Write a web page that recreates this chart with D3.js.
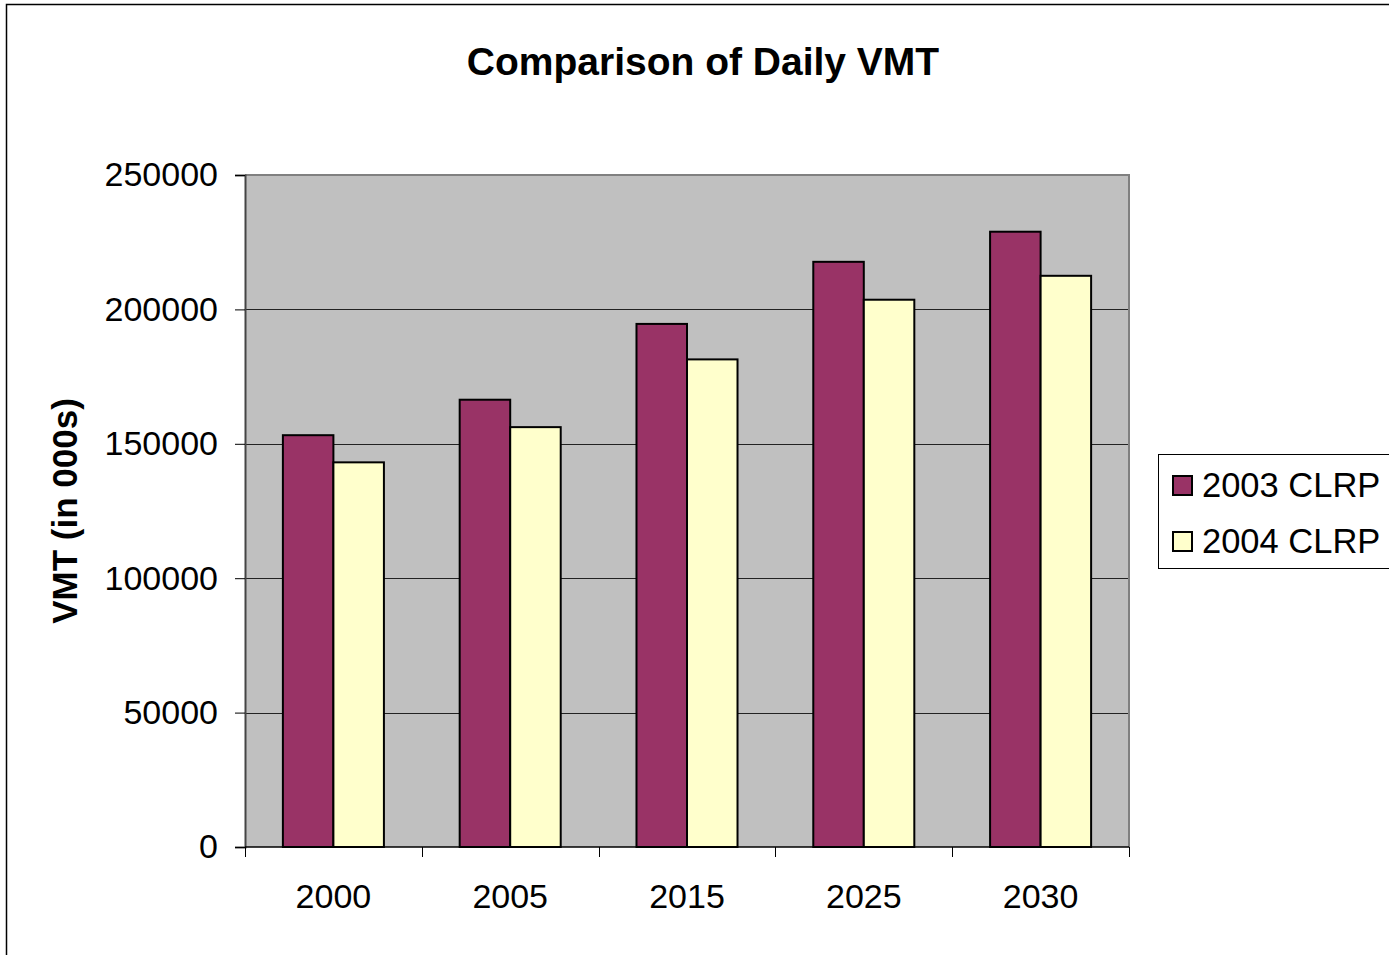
<!DOCTYPE html>
<html>
<head>
<meta charset="utf-8">
<script src="https://cdn.jsdelivr.net/npm/d3@7.9.0/dist/d3.min.js"></script>
<style>
  body { margin: 0; background: #fff; }
  svg { display: block; font-family: "Liberation Sans", Arial, sans-serif; }
</style>
</head>
<body>
<svg id="chart" width="1389" height="955"></svg>
<script>
const years = ['2000', '2005', '2015', '2025', '2030'];
const seriesNames = ['2003 CLRP', '2004 CLRP'];
const clrp2003 = [153200, 166400, 194600, 217700, 228900];
const clrp2004 = [143100, 156200, 181400, 203600, 212500];
const yTicks = [0, 50000, 100000, 150000, 200000, 250000];

const colors = ['#993366', '#FFFFCC'];

const svg = d3.select('#chart');
const plot = { left: 245, top: 175, right: 1129, bottom: 847 };

// outer chart frame
svg.append('rect')
  .attr('x', 6.5).attr('y', 4.5)
  .attr('width', 1400).attr('height', 1000)
  .attr('fill', 'none').attr('stroke', '#000').attr('stroke-width', 1.5);

const x = d3.scaleBand()
  .domain(years)
  .range([plot.left, plot.right]);

const y = d3.scaleLinear()
  .domain([0, 250000])
  .range([plot.bottom, plot.top]);

// plot background
svg.append('rect')
  .attr('x', plot.left).attr('y', plot.top)
  .attr('width', plot.right - plot.left).attr('height', plot.bottom - plot.top)
  .attr('fill', '#C0C0C0');

// gridlines
svg.append('g')
  .selectAll('line')
  .data(yTicks.filter(d => d > 0 && d < 250000))
  .enter()
  .append('line')
    .attr('x1', plot.left).attr('x2', plot.right)
    .attr('y1', d => Math.round(y(d)) + 0.5).attr('y2', d => Math.round(y(d)) + 0.5)
    .attr('stroke', '#222').attr('stroke-width', 1);

// plot border (top/right grey)
svg.append('path')
  .attr('d', `M${plot.left},${plot.top} H${plot.right} V${plot.bottom}`)
  .attr('fill', 'none').attr('stroke', '#808080').attr('stroke-width', 2);

// bars
const barW = x.bandwidth() / 3.5;
const data = years.map((yr, i) => ({ year: yr, values: [clrp2003[i], clrp2004[i]] }));

const groups = svg.append('g')
  .selectAll('g')
  .data(data)
  .enter()
  .append('g')
    .attr('transform', d => `translate(${x(d.year) + (x.bandwidth() - 2 * barW) / 2},0)`);

groups.selectAll('rect')
  .data(d => d.values)
  .enter()
  .append('rect')
    .attr('x', (d, i) => i * barW)
    .attr('y', d => y(d))
    .attr('width', barW)
    .attr('height', d => y(0) - y(d))
    .attr('fill', (d, i) => colors[i])
    .attr('stroke', '#000')
    .attr('stroke-width', 2);

// y axis
const yAxis = svg.append('g')
  .attr('transform', `translate(${plot.left},0)`)
  .call(d3.axisLeft(y).tickValues(yTicks).tickSize(10).tickPadding(17).tickFormat(d3.format('d')));
yAxis.select('.domain').attr('stroke', '#444').attr('stroke-width', 2);
yAxis.selectAll('.tick line').attr('stroke', '#000');
yAxis.selectAll('text')
  .attr('font-size', 34)
  .attr('font-family', '"Liberation Sans", Arial, sans-serif')
  .attr('fill', '#000');

// x axis
const xAxis = svg.append('g')
  .attr('transform', `translate(0,${plot.bottom})`)
  .call(d3.axisBottom(x).tickSize(0).tickPadding(37));
xAxis.select('.domain').remove();
xAxis.selectAll('text')
  .attr('font-size', 34)
  .attr('font-family', '"Liberation Sans", Arial, sans-serif')
  .attr('fill', '#000');

svg.append('line')
  .attr('x1', plot.left).attr('x2', plot.right)
  .attr('y1', plot.bottom).attr('y2', plot.bottom)
  .attr('stroke', '#000').attr('stroke-width', 1.5);

svg.append('g')
  .selectAll('line')
  .data(years.map(d => x(d)).concat([plot.right]))
  .enter()
  .append('line')
    .attr('x1', d => Math.round(d) + 0.5).attr('x2', d => Math.round(d) + 0.5)
    .attr('y1', plot.bottom).attr('y2', plot.bottom + 10)
    .attr('stroke', '#000');

// title
svg.append('text')
  .attr('x', 703).attr('y', 75)
  .attr('text-anchor', 'middle')
  .attr('font-size', 39)
  .attr('font-weight', 'bold')
  .text('Comparison of Daily VMT');

// y axis title
svg.append('text')
  .attr('transform', `translate(77,${(plot.top + plot.bottom) / 2}) rotate(-90)`)
  .attr('text-anchor', 'middle')
  .attr('font-size', 35)
  .attr('font-weight', 'bold')
  .text('VMT (in 000s)');

// legend
const legend = svg.append('g').attr('transform', 'translate(1158,454)');
legend.append('rect')
  .attr('x', 0.5).attr('y', 0.5)
  .attr('width', 240).attr('height', 114)
  .attr('fill', '#fff').attr('stroke', '#000').attr('stroke-width', 1);

const items = legend.selectAll('g.item')
  .data(seriesNames)
  .enter()
  .append('g')
    .attr('class', 'item')
    .attr('transform', (d, i) => `translate(0,${30 + i * 56})`);

items.append('rect')
  .attr('x', 15).attr('y', -8)
  .attr('width', 19).attr('height', 19)
  .attr('fill', (d, i) => colors[i])
  .attr('stroke', '#000').attr('stroke-width', 2);

items.append('text')
  .attr('x', 44).attr('y', 13)
  .attr('font-size', 34.5)
  .text(d => d);
</script>
</body>
</html>
